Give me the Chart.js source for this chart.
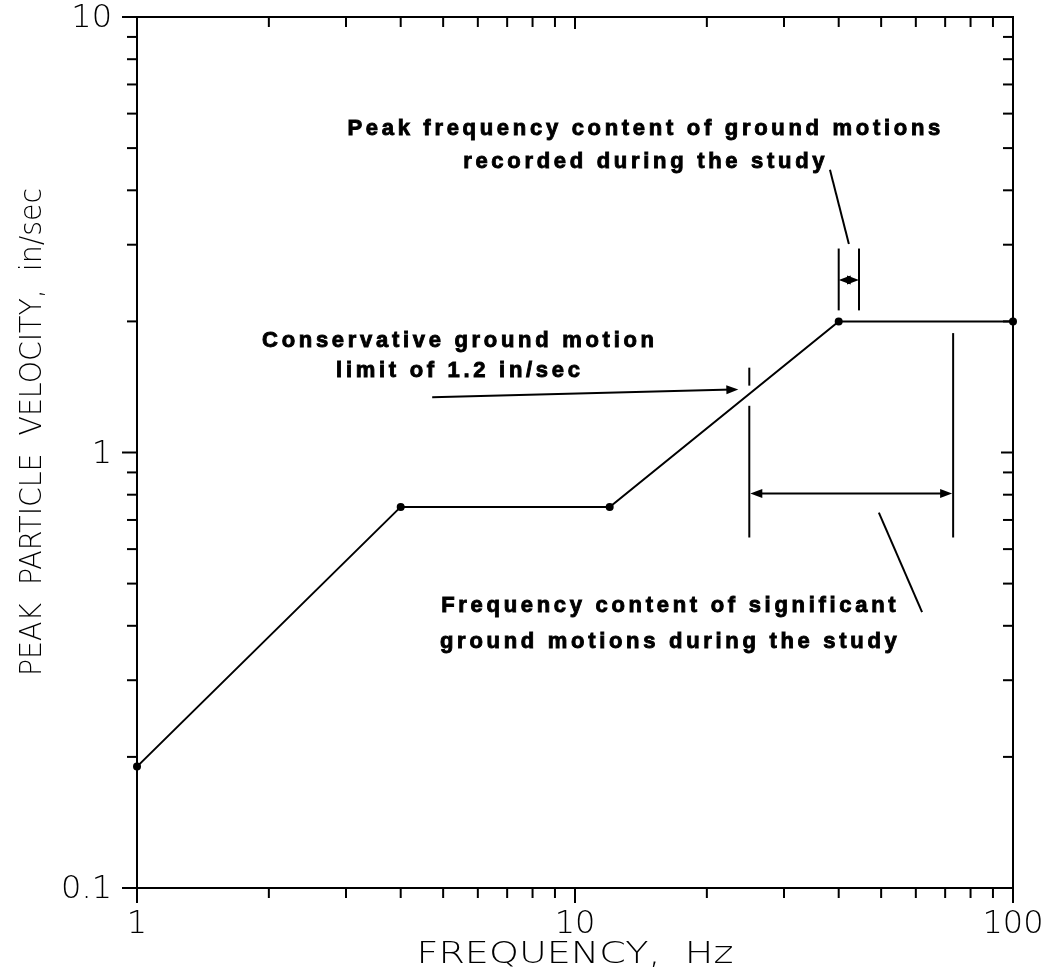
<!DOCTYPE html>
<html>
<head>
<meta charset="utf-8">
<script src="https://cdn.jsdelivr.net/npm/chart.js@4.4.1/dist/chart.umd.min.js"></script>
<style>
  html, body { margin: 0; padding: 0; background: #fff; }
  #wrap { width: 1043px; height: 976px; position: relative; }
</style>
</head>
<body>
<div id="wrap"><canvas id="myChart"></canvas></div>
<script>
// criterion curve (frequency in Hz, peak particle velocity in in/sec)
var freqHz = [1, 4, 12, 40, 100];
var velocity = [0.19, 0.75, 0.75, 2.0, 2.0];

// axis labels
var xTickValues = [1, 10, 100];
var xTickLabels = ['1', '10', '100'];
var yTickValues = [0.1, 1, 10];
var yTickLabels = ['0.1', '1', '10'];
var xTitle = 'FREQUENCY,  Hz';
var yTitle = 'PEAK  PARTICLE  VELOCITY,  in/sec';

// annotations, in data units
var recordedBand = [40, 44.5];          // Hz
var recordedBar = [2.12, 2.94];         // in/sec
var recordedArrowAt = 2.49;
var recordedLeader = [[38.2, 4.46], [42.2, 3.01]];

var significantBand = [25, 73];         // Hz
var significantLeftBar = [0.638, 1.28];
var significantRightBar = [0.638, 1.88];
var significantArrowAt = 0.805;
var significantLeader = [[49.4, 0.728], [62.0, 0.43]];

var limitTick = [1.424, 1.566];         // short mark at 25 Hz
var limitArrow = [[4.72, 1.34], [23.6, 1.395]];

var recordedText = ['Peak frequency content of ground motions', 'recorded during the study'];
var recordedTextAt = [14.5, 5.53, 4.65];
var limitText = ['Conservative ground motion', 'limit of 1.2 in/sec'];
var limitTextAt = [5.46, 1.807, 1.542];
var significantText = ['Frequency content of significant', 'ground motions during the study'];
var significantTextAt = [16.5, 0.444, 0.368];

var points = freqHz.map(function (f, i) { return { x: f, y: velocity[i] }; });

function seg(ctx, x1, y1, x2, y2) {
  ctx.beginPath();
  ctx.moveTo(x1, y1);
  ctx.lineTo(x2, y2);
  ctx.stroke();
}

function head(ctx, x, y, ang) {
  var len = 12, w = 4.5;
  ctx.save();
  ctx.translate(x, y);
  ctx.rotate(ang);
  ctx.beginPath();
  ctx.moveTo(0, 0);
  ctx.lineTo(-len, -w);
  ctx.lineTo(-len, w);
  ctx.closePath();
  ctx.fill();
  ctx.restore();
}

function fitText(ctx, text, cx, cy, width, rot) {
  ctx.save();
  ctx.translate(cx, cy);
  if (rot) ctx.rotate(rot);
  var w = ctx.measureText(text).width;
  ctx.scale(width / w, 1);
  ctx.fillText(text, 0, 0);
  ctx.restore();
}

var plotFrame = {
  id: 'plotFrame',
  afterDraw: function (chart) {
    var ctx = chart.ctx, a = chart.chartArea;
    var xs = chart.scales.x, ys = chart.scales.y;
    var X = function (v) { return xs.getPixelForValue(v); };
    var Y = function (v) { return ys.getPixelForValue(v); };

    ctx.save();
    ctx.strokeStyle = '#000';
    ctx.fillStyle = '#000';
    ctx.lineWidth = 2;
    ctx.strokeRect(a.left, a.top, a.right - a.left, a.bottom - a.top);

    // minor ticks: outside on left/bottom, inside on top/right
    var d, m, p;
    for (d = 1; d < 100; d *= 10) {
      for (m = 2; m <= 9; m++) {
        p = X(m * d);
        seg(ctx, p, a.bottom, p, a.bottom + 10);
        seg(ctx, p, a.top, p, a.top + 10);
      }
    }
    for (d = 0.1; d < 10; d *= 10) {
      for (m = 2; m <= 9; m++) {
        p = Y(m * d);
        seg(ctx, a.left - 10, p, a.left, p);
        seg(ctx, a.right - 10, p, a.right, p);
      }
    }
    xTickValues.forEach(function (v) {
      p = X(v);
      seg(ctx, p, a.bottom, p, a.bottom + 15);
      seg(ctx, p, a.top, p, a.top + 12);
    });
    yTickValues.forEach(function (v) {
      p = Y(v);
      seg(ctx, a.left - 15, p, a.left, p);
      seg(ctx, a.right - 12, p, a.right, p);
    });

    // tick labels
    ctx.font = '200 32px "DejaVu Sans"';
    ctx.textBaseline = 'middle';
    ctx.textAlign = 'center';
    xTickValues.forEach(function (v, i) {
      ctx.fillText(xTickLabels[i], X(v), a.bottom + 37);
    });
    ctx.textAlign = 'right';
    yTickValues.forEach(function (v, i) {
      ctx.fillText(yTickLabels[i], a.left - 25, Y(v) + 2);
    });

    // axis titles
    ctx.textAlign = 'center';
    ctx.font = '200 30px "DejaVu Sans"';
    fitText(ctx, xTitle, (a.left + a.right) / 2, a.bottom + 67, 317, 0);
    fitText(ctx, yTitle, 33, 432, 488, -Math.PI / 2);

    // recorded band bracket
    ctx.lineWidth = 2;
    recordedBand.forEach(function (f) { seg(ctx, X(f), Y(recordedBar[0]), X(f), Y(recordedBar[1])); });
    var ry = Y(recordedArrowAt);
    seg(ctx, X(recordedBand[0]) + 4, ry, X(recordedBand[1]) - 4, ry);
    head(ctx, X(recordedBand[0]), ry, Math.PI);
    head(ctx, X(recordedBand[1]), ry, 0);
    seg(ctx, X(recordedLeader[0][0]), Y(recordedLeader[0][1]), X(recordedLeader[1][0]), Y(recordedLeader[1][1]));

    // significant band bracket
    seg(ctx, X(significantBand[0]), Y(significantLeftBar[0]), X(significantBand[0]), Y(significantLeftBar[1]));
    seg(ctx, X(significantBand[1]), Y(significantRightBar[0]), X(significantBand[1]), Y(significantRightBar[1]));
    var sy = Y(significantArrowAt);
    seg(ctx, X(significantBand[0]) + 6, sy, X(significantBand[1]) - 6, sy);
    head(ctx, X(significantBand[0]) + 1, sy, Math.PI);
    head(ctx, X(significantBand[1]) - 1, sy, 0);
    seg(ctx, X(significantLeader[0][0]), Y(significantLeader[0][1]), X(significantLeader[1][0]), Y(significantLeader[1][1]));

    // conservative limit arrow
    seg(ctx, X(significantBand[0]), Y(limitTick[0]), X(significantBand[0]), Y(limitTick[1]));
    var ax1 = X(limitArrow[0][0]), ay1 = Y(limitArrow[0][1]);
    var ax2 = X(limitArrow[1][0]), ay2 = Y(limitArrow[1][1]);
    seg(ctx, ax1, ay1, ax2 - 6, ay2);
    head(ctx, ax2, ay2, Math.atan2(ay2 - ay1, ax2 - ax1));

    // notes, heavy and widely spaced like the typed original
    ctx.font = 'bold 22px "Liberation Sans", Arial, sans-serif';
    ctx.letterSpacing = '3.7px';
    ctx.textAlign = 'center';
    ctx.textBaseline = 'middle';
    ctx.lineWidth = 0.9;
    [[recordedText, recordedTextAt], [limitText, limitTextAt], [significantText, significantTextAt]].forEach(function (n) {
      var cx = X(n[1][0]);
      n[0].forEach(function (line, i) {
        var y = Y(n[1][i + 1]);
        ctx.fillText(line, cx, y);
        ctx.strokeText(line, cx, y);
      });
    });
    ctx.restore();
  }
};

var ctx = document.getElementById('myChart').getContext('2d');
var myChart = new Chart(ctx, {
  type: 'scatter',
  data: {
    datasets: [{
      label: 'Criterion',
      data: points,
      showLine: true,
      borderColor: '#000',
      borderWidth: 2,
      pointRadius: 3,
      pointBackgroundColor: '#000',
      pointBorderColor: '#000',
      clip: false
    }]
  },
  options: {
    responsive: true,
    maintainAspectRatio: false,
    animation: false,
    layout: { padding: { left: 137, right: 30, top: 17, bottom: 88 } },
    scales: {
      x: { type: 'logarithmic', min: 1, max: 100, display: false },
      y: { type: 'logarithmic', min: 0.1, max: 10, display: false }
    },
    plugins: {
      legend: { display: false },
      tooltip: { enabled: false }
    }
  },
  plugins: [plotFrame]
});
</script>
</body>
</html>
